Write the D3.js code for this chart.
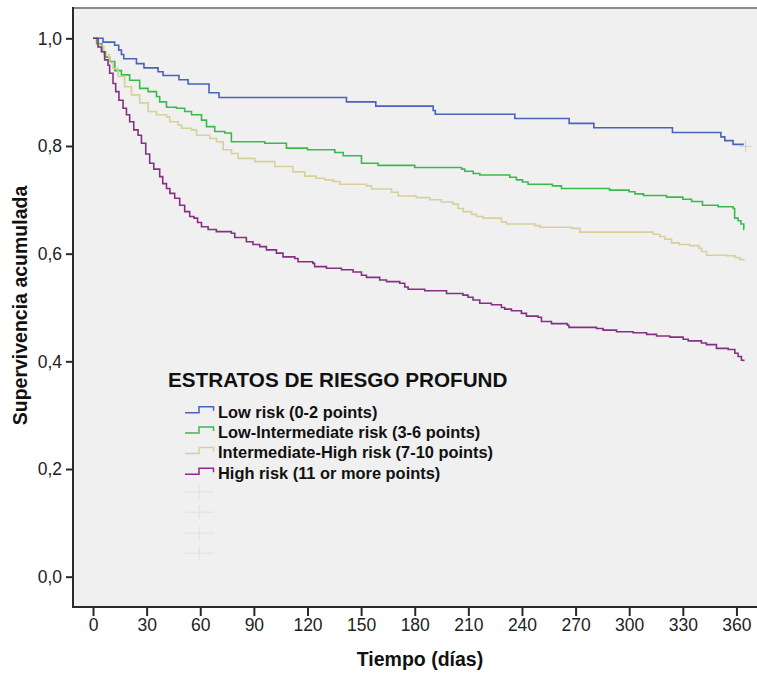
<!DOCTYPE html>
<html>
<head>
<meta charset="utf-8">
<script src="https://cdn.jsdelivr.net/npm/d3@7/dist/d3.min.js"></script>
<style>
  html, body { margin: 0; padding: 0; background: #ffffff; }
  svg { display: block; }
</style>
</head>
<body>
<svg id="chart" width="757" height="675"></svg>
<script>
// Kaplan-Meier cumulative survival by PROFUND risk stratum (step points: day, survival)
const lowDays = [0, 5.6, 12.1, 14.4, 15.9, 17.2, 24.3, 28.5, 36.4, 39.2, 48.1, 53.2, 64.9, 70.5, 141.8, 158.2, 190.3, 191.5, 236, 266.4, 280.2, 324.2, 351.3, 353.5, 358.1, 364.1];
const lowSurv = [1.0, 0.993, 0.987, 0.978, 0.970, 0.962, 0.953, 0.945, 0.938, 0.931, 0.923, 0.915, 0.899, 0.890, 0.882, 0.874, 0.866, 0.859, 0.851, 0.842, 0.834, 0.825, 0.817, 0.810, 0.803, 0.803];

const lowIntDays = [0, 2, 5, 7, 9.3, 12.2, 15.9, 20.5, 26.1, 30.8, 35.5, 37.3, 41.1, 46.7, 51.3, 55.1, 60.7, 63.5, 68.1, 73.7, 77.4, 96.1, 108.2, 120, 135.3, 140, 150.2, 159.5, 180, 206.2, 208, 212.7, 216.4, 233.2, 236.9, 240.3, 243.4, 257, 262.1, 289, 300, 303.2, 308, 320.9, 330, 334.9, 341, 349.8, 358.2, 359, 360.9, 362.5, 364.1, 364.3];
const lowIntSurv = [1.0, 0.99, 0.975, 0.965, 0.957, 0.94, 0.932, 0.922, 0.907, 0.901, 0.892, 0.882, 0.872, 0.870, 0.864, 0.858, 0.848, 0.836, 0.827, 0.824, 0.808, 0.805, 0.796, 0.793, 0.788, 0.782, 0.768, 0.764, 0.760, 0.757, 0.753, 0.749, 0.746, 0.742, 0.737, 0.733, 0.729, 0.726, 0.721, 0.718, 0.715, 0.711, 0.708, 0.705, 0.701, 0.697, 0.690, 0.687, 0.684, 0.666, 0.661, 0.655, 0.645, 0.645];

const intHighDays = [0, 3, 6, 9, 11.2, 14, 17.7, 21.5, 26.1, 30.8, 35.5, 41.1, 42.9, 47.6, 49.5, 55.1, 57.9, 65.3, 69.1, 72.8, 77.5, 81.2, 90.5, 101.7, 111.9, 118.5, 124.8, 129.7, 134.4, 138.1, 152.9, 155.8, 167, 170.7, 180.9, 188.4, 194.9, 201.5, 204.3, 207.1, 211.8, 214.6, 218.3, 228.5, 231.3, 247.2, 250, 267.8, 272.4, 313.4, 317.1, 319.9, 323.7, 327.9, 333.9, 339, 340.5, 343.3, 354.5, 359.1, 361.9, 364.1];
const intHighSurv = [1.0, 0.985, 0.97, 0.955, 0.944, 0.929, 0.91, 0.895, 0.88, 0.864, 0.858, 0.854, 0.845, 0.839, 0.833, 0.830, 0.820, 0.814, 0.808, 0.793, 0.786, 0.777, 0.771, 0.762, 0.752, 0.744, 0.740, 0.737, 0.734, 0.729, 0.726, 0.720, 0.714, 0.707, 0.704, 0.700, 0.696, 0.692, 0.684, 0.678, 0.673, 0.669, 0.666, 0.659, 0.655, 0.652, 0.649, 0.647, 0.640, 0.636, 0.632, 0.627, 0.620, 0.617, 0.615, 0.610, 0.604, 0.597, 0.596, 0.593, 0.589, 0.587];

const highDays = [0, 2.8, 4.7, 6.5, 8.4, 9.3, 11.2, 12.7, 14.5, 16.8, 18.7, 20.5, 22.8, 25.2, 27.1, 29.5, 31.7, 34, 37.3, 39, 41.1, 43, 45.7, 48.5, 51.3, 54.1, 56.5, 58.5, 60.7, 64.4, 69, 77.4, 79.3, 85.8, 89.5, 93.3, 97, 102.6, 106.3, 112.9, 114.7, 123, 124, 130.6, 139, 145.5, 150.2, 153, 160.4, 164.2, 171.6, 174.4, 176.3, 185.6, 197.8, 207, 209.8, 212.6, 216.4, 222.9, 228.5, 230.4, 234.1, 239.7, 242.5, 249, 250.9, 256.5, 265.4, 266.3, 281.7, 285.4, 292.9, 302.2, 309.7, 315.3, 322.7, 330.2, 333, 340.4, 343.2, 348.8, 355.4, 359.1, 360.9, 362.8, 364.1];
const highSurv = [1.0, 0.984, 0.975, 0.960, 0.950, 0.935, 0.916, 0.901, 0.885, 0.870, 0.858, 0.845, 0.830, 0.820, 0.805, 0.785, 0.768, 0.757, 0.743, 0.730, 0.721, 0.712, 0.703, 0.690, 0.678, 0.669, 0.666, 0.658, 0.650, 0.645, 0.641, 0.638, 0.630, 0.622, 0.617, 0.613, 0.607, 0.601, 0.594, 0.591, 0.585, 0.582, 0.576, 0.573, 0.570, 0.566, 0.560, 0.556, 0.551, 0.548, 0.545, 0.538, 0.534, 0.531, 0.526, 0.523, 0.519, 0.514, 0.508, 0.505, 0.500, 0.497, 0.494, 0.489, 0.484, 0.482, 0.474, 0.470, 0.467, 0.463, 0.461, 0.458, 0.455, 0.453, 0.450, 0.447, 0.445, 0.441, 0.438, 0.434, 0.431, 0.424, 0.422, 0.415, 0.409, 0.402, 0.400];

const groupLabels = [
  "Low risk (0-2 points)",
  "Low-Intermediate risk (3-6 points)",
  "Intermediate-High risk (7-10 points)",
  "High risk (11 or more points)"
];
const groupColors = ["#4a62b8", "#38bb4c", "#d6d09a", "#853085"];
const legendTitle = "ESTRATOS DE RIESGO PROFUND";

const xTicks = [0, 30, 60, 90, 120, 150, 180, 210, 240, 270, 300, 330, 360];
const yTicks = [0, 0.2, 0.4, 0.6, 0.8, 1.0];
const xTitle = "Tiempo (días)";
const yTitle = "Supervivencia acumulada";

const series = [
  { days: lowDays, surv: lowSurv },
  { days: lowIntDays, surv: lowIntSurv },
  { days: intHighDays, surv: intHighSurv },
  { days: highDays, surv: highSurv }
].map((s, i) => ({
  label: groupLabels[i],
  color: groupColors[i],
  points: s.days.map((d, j) => [d, s.surv[j]])
}));

// ---- layout ----
const svg = d3.select("#chart");
const W = 757, H = 675;
const plot = { left: 73, top: 8, right: 757, bottom: 607 };

const x = d3.scaleLinear().domain([-11.2, 371.5]).range([plot.left, plot.right]);
const y = d3.scaleLinear().domain([-0.0563, 1.0563]).range([plot.bottom, plot.top]);

svg.append("rect").attr("width", W).attr("height", H).attr("fill", "#ffffff");

// plot background and frame
svg.append("rect")
  .attr("x", plot.left).attr("y", plot.top)
  .attr("width", plot.right - plot.left + 2).attr("height", plot.bottom - plot.top)
  .attr("fill", "#f0f0f0")
  .attr("stroke", "#8a8a8a").attr("stroke-width", 2);

// choose a condensed face for tick labels if one is installed
function hasNarrow() {
  const t = svg.append("text").style("font-size", "20px").text("0123456789");
  t.style("font-family", "'Liberation Sans Narrow'");
  const wn = t.node().getComputedTextLength();
  t.style("font-family", "'Liberation Sans'");
  const wr = t.node().getComputedTextLength();
  t.remove();
  return wn < wr * 0.9;
}
const narrow = hasNarrow();
const tickFont = narrow ? "'Liberation Sans Narrow', 'Arial Narrow', sans-serif" : "'Liberation Sans', Arial, sans-serif";
const squeeze = narrow ? 1 : 0.82;

// ---- axes ----
const yAxis = svg.append("g")
  .attr("transform", `translate(${plot.left},0)`)
  .call(d3.axisLeft(y).tickValues(yTicks).tickSize(7).tickSizeOuter(0)
    .tickFormat(d => d3.format(".1f")(d).replace(".", ",")));
yAxis.select(".domain").remove();
yAxis.selectAll(".tick line").attr("stroke", "#2a2a2a").attr("stroke-width", 2);
yAxis.selectAll(".tick text")
  .attr("fill", "#222")
  .style("font-family", tickFont).style("font-size", "17.5px")
  .attr("x", 0)
  .attr("dy", "0.33em")
  .attr("transform", `translate(-11,0) scale(${squeeze},1)`);

const xAxis = svg.append("g")
  .attr("transform", `translate(0,${plot.bottom})`)
  .call(d3.axisBottom(x).tickValues(xTicks).tickSize(9).tickSizeOuter(0));
xAxis.select(".domain").remove();
xAxis.selectAll(".tick line").attr("stroke", "#2a2a2a").attr("stroke-width", 2);
xAxis.selectAll(".tick text")
  .attr("fill", "#222")
  .style("font-family", tickFont).style("font-size", "17.5px")
  .attr("y", 12)
  .attr("dy", "0.71em")
  .attr("transform", `scale(${squeeze},1)`);

// left and bottom axis lines
svg.append("line")
  .attr("x1", plot.left).attr("x2", plot.left)
  .attr("y1", plot.top - 1).attr("y2", plot.bottom + 1)
  .attr("stroke", "#2a2a2a").attr("stroke-width", 2);
svg.append("line")
  .attr("x1", plot.left - 1).attr("x2", plot.right + 2)
  .attr("y1", plot.bottom).attr("y2", plot.bottom)
  .attr("stroke", "#2a2a2a").attr("stroke-width", 2);

// axis titles
svg.append("text")
  .attr("transform", `translate(27,${(plot.top + plot.bottom) / 2 - 2}) rotate(-90)`)
  .attr("text-anchor", "middle")
  .style("font-family", "'Liberation Sans', Arial, sans-serif")
  .style("font-weight", "bold").style("font-size", "19.5px")
  .attr("fill", "#111")
  .text(yTitle);
svg.append("text")
  .attr("x", 420).attr("y", 666)
  .attr("text-anchor", "middle")
  .style("font-family", "'Liberation Sans', Arial, sans-serif")
  .style("font-weight", "bold").style("font-size", "19.5px")
  .attr("fill", "#111")
  .text(xTitle);

// ---- survival curves ----
const line = d3.line()
  .x(d => x(d[0]))
  .y(d => y(d[1]))
  .curve(d3.curveStepAfter);

const curves = svg.append("g");
series.forEach(s => {
  curves.append("path")
    .datum(s.points)
    .attr("fill", "none")
    .attr("stroke", s.color)
    .attr("stroke-width", 1.6)
    .attr("stroke-linejoin", "miter")
    .attr("d", line);
});

// censoring mark at the end of follow-up of the low-risk group
const lastLow = series[0].points[series[0].points.length - 1];
const cx = x(lastLow[0] + 1), cy = y(lastLow[1]) + 2;
const censor = svg.append("g").attr("stroke", "#d2d2d2").attr("stroke-width", 1.2);
censor.append("line").attr("x1", cx - 6).attr("x2", cx + 6).attr("y1", cy).attr("y2", cy);
censor.append("line").attr("x1", cx).attr("x2", cx).attr("y1", cy - 6).attr("y2", cy + 6);

// ---- legend ----
const legend = svg.append("g");
legend.append("text")
  .attr("x", 168).attr("y", 387)
  .style("font-family", "'Liberation Sans', Arial, sans-serif")
  .style("font-weight", "bold").style("font-size", "20.7px")
  .attr("fill", "#111")
  .text(legendTitle);

const itemCenters = [411.7, 431.9, 452.6, 473.3];
series.forEach((s, i) => {
  const c = itemCenters[i];
  legend.append("path")
    .attr("d", `M185,${c + 1} H199 V${c - 5} H213.5 V${c - 1}`)
    .attr("fill", "none")
    .attr("stroke", s.color)
    .attr("stroke-width", 1.5);
  legend.append("text")
    .attr("x", 218).attr("y", c + 5.8)
    .style("font-family", "'Liberation Sans', Arial, sans-serif")
    .style("font-weight", "bold").style("font-size", "16.4px")
    .attr("fill", "#111")
    .text(s.label);
});

// censored-case symbols of the legend
const crossCenters = [491.7, 512.3, 533.3, 553.3];
crossCenters.forEach(c => {
  const g = legend.append("g").attr("stroke", "#e2e2e2").attr("stroke-width", 1.2);
  g.append("line").attr("x1", 185).attr("x2", 214).attr("y1", c).attr("y2", c);
  g.append("line").attr("x1", 199.5).attr("x2", 199.5).attr("y1", c - 7).attr("y2", c + 7);
});
</script>
</body>
</html>
